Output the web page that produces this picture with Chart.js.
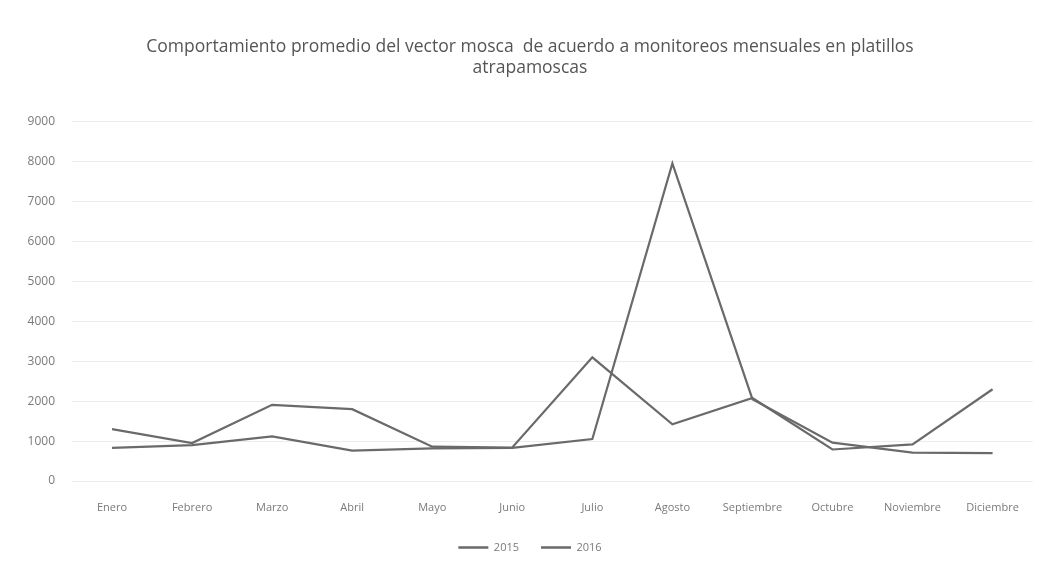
<!DOCTYPE html>
<html>
<head>
<meta charset="utf-8">
<script src="https://cdn.jsdelivr.net/npm/chart.js@4.4.0/dist/chart.umd.min.js"></script>
<style>
  html, body { margin: 0; padding: 0; background: #ffffff; }
  #wrap { width: 1039px; height: 570px; }
</style>
</head>
<body>
<div id="wrap"><canvas id="c" width="1039" height="570"></canvas></div>
<script>
const categories = ["Enero", "Febrero", "Marzo", "Abril", "Mayo", "Junio", "Julio", "Agosto", "Septiembre", "Octubre", "Noviembre", "Diciembre"];
const series2015 = [830, 900, 1120, 760, 820, 830, 1050, 7960, 2050, 960, 710, 700];
const series2016 = [1300, 950, 1910, 1800, 860, 840, 3100, 1420, 2080, 790, 920, 2300];
const seriesNames = ["2015", "2016"];
const yTicks = [0, 1000, 2000, 3000, 4000, 5000, 6000, 7000, 8000, 9000];
const titleLines = ["Comportamiento promedio del vector mosca  de acuerdo a monitoreos mensuales en platillos", "atrapamoscas"];

const lineColor = "#6a6a6a";
const textColor = "#7a7a7a";
const titleFont = "'Open Sans', Lato, sans-serif";
const tickFont = "'Open Sans', Lato, sans-serif";

new Chart(document.getElementById("c"), {
  type: "line",
  data: {
    labels: categories,
    datasets: [
      { label: seriesNames[0], data: series2015, borderColor: lineColor, backgroundColor: lineColor, borderWidth: 2.2, pointRadius: 0, tension: 0 },
      { label: seriesNames[1], data: series2016, borderColor: lineColor, backgroundColor: lineColor, borderWidth: 2.2, pointRadius: 0, tension: 0 }
    ]
  },
  options: {
    responsive: false,
    animation: false,
    layout: { padding: { top: 37, left: 24, right: 3, bottom: 7 } },
    plugins: {
      title: {
        display: true,
        text: titleLines,
        color: "#555555",
        font: { family: titleFont, size: 17.5, weight: "normal", lineHeight: 1.17 },
        padding: { top: 0, bottom: 44 }
      },
      legend: {
        display: true,
        position: "bottom",
        labels: {
          color: textColor,
          font: { family: tickFont, size: 11 },
          boxWidth: 30,
          boxHeight: 0,
          padding: 22,
          generateLabels: (chart) => chart.data.datasets.map((ds, i) => ({
            text: ds.label, fillStyle: lineColor, strokeStyle: lineColor, lineWidth: 2.5, datasetIndex: i, fontColor: textColor
          }))
        }
      },
      tooltip: { enabled: false }
    },
    scales: {
      x: {
        offset: true,
        grid: { display: false, drawTicks: false },
        border: { display: false },
        ticks: { color: textColor, font: { family: tickFont, size: 11 }, padding: 20, maxRotation: 0, autoSkip: false },
        afterFit: (s) => { s.height = 39; }
      },
      y: {
        min: 0, max: 9000,
        afterBuildTicks: (s) => { s.ticks = yTicks.map(v => ({ value: v })); },
        grid: { color: "#ececec", drawTicks: false, lineWidth: 1 },
        border: { display: false },
        ticks: { color: textColor, font: { family: tickFont, size: 12 }, padding: 17, callback: (v) => String(v) },
        afterFit: (s) => { s.width = 48; }
      }
    }
  }
});
</script>
</body>
</html>
